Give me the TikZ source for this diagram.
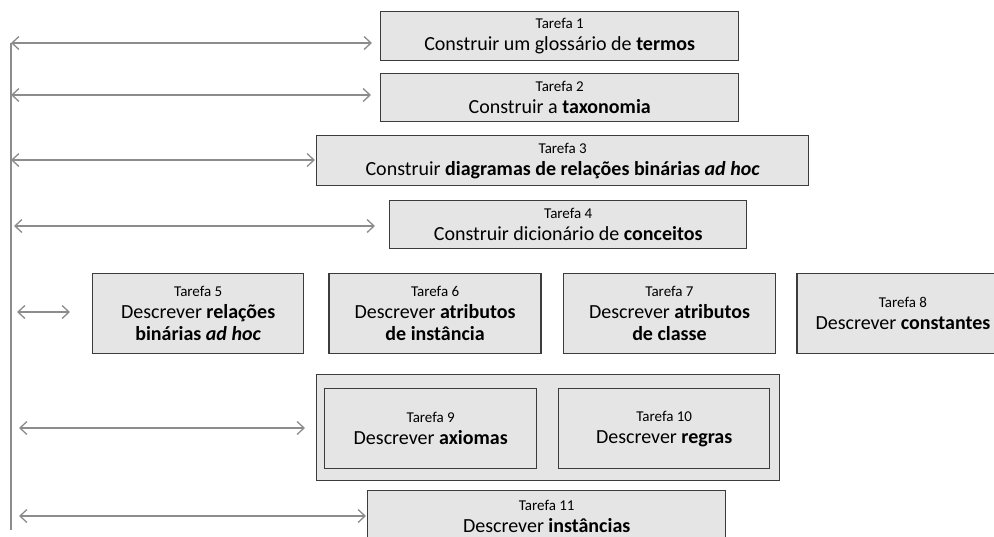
\documentclass[tikz,border=0pt]{standalone}
\usepackage{fontspec}
\setmainfont{Carlito}
\usetikzlibrary{arrows.meta,positioning}

\definecolor{boxfill}{RGB}{229,229,229}
\definecolor{boxline}{RGB}{60,60,60}
\definecolor{linkgray}{RGB}{140,140,140}

\tikzset{
  task/.style={draw=boxline,fill=boxfill,line width=1.4pt,rectangle,align=center,inner sep=0pt,
    font=\fontsize{20}{22}\selectfont},
  link/.style={draw=linkgray,line width=1.3pt,
    {Straight Barb[length=7pt,width=13pt]}-{Straight Barb[length=7pt,width=13pt]}},
}
\newcommand{\tarefa}[1]{{\fontsize{15}{16}\selectfont Tarefa #1}}

\begin{document}
\begin{tikzpicture}[x=1pt,y=-1pt]
\useasboundingbox (0,0) rectangle (994,536);

% spine on the left
\draw[draw=linkgray,line width=1.3pt] (11,43) -- (11,530);

\node[task,anchor=north west,minimum width=358pt,minimum height=49pt] (t1) at (380,11)
  {\tarefa{1}\\Construir um glossário de \textbf{termos}};

\node[task,anchor=north west,minimum width=358pt,minimum height=48pt] (t2) at (380,73)
  {\tarefa{2}\\Construir a \textbf{taxonomia}};

\node[task,anchor=north west,minimum width=492pt,minimum height=50pt] (t3) at (316,135)
  {\tarefa{3}\\Construir \textbf{diagramas de relações binárias \textit{ad hoc}}};

\node[task,anchor=north west,minimum width=357pt,minimum height=48pt] (t4) at (389,200)
  {\tarefa{4}\\Construir dicionário de \textbf{conceitos}};

% row of four
\node[task,anchor=north west,minimum width=211pt,minimum height=80pt] (t5) at (92,273)
  {\tarefa{5}\\Descrever \textbf{relações}\\\textbf{binárias \textit{ad hoc}}};
\node[task,right=24pt of t5,minimum width=212pt,minimum height=80pt] (t6)
  {\tarefa{6}\\Descrever \textbf{atributos}\\\textbf{de instância}};
\node[task,right=21pt of t6,minimum width=212pt,minimum height=80pt] (t7)
  {\tarefa{7}\\Descrever \textbf{atributos}\\\textbf{de classe}};
\node[task,right=20pt of t7,minimum width=212pt,minimum height=80pt] (t8)
  {\tarefa{8}\\Descrever \textbf{constantes}};

% group of tasks 9 and 10
\node[task,anchor=north west,minimum width=463pt,minimum height=106pt] (t9to10) at (316,374) {};
\node[task,anchor=north west,minimum width=212pt,minimum height=80pt] (t9) at (324,388)
  {\tarefa{9}\\Descrever \textbf{axiomas}};
\node[task,anchor=north west,minimum width=211pt,minimum height=80pt] (t10) at (558,388)
  {\tarefa{10}\\Descrever \textbf{regras}};

\node[task,anchor=north west,minimum width=358pt,minimum height=52pt] (t11) at (367,490)
  {\tarefa{11}\\Descrever \textbf{instâncias}};

% connectors
\coordinate (s1) at (11,43);
\coordinate (s2) at (11,95);
\coordinate (s3) at (11,160);
\coordinate (s4) at (14,226);
\coordinate (s5) at (17,312);
\coordinate (s6) at (19,428);
\coordinate (s7) at (19,516);

\draw[link,shorten >=8pt] (s1) -- (s1 -| t1.west);
\draw[link,shorten >=9pt] (s2) -- (s2 -| t2.west);
\draw[link,shorten >=1pt] (s3) -- (s3 -| t3.west);
\draw[link,shorten >=14pt] (s4) -- (s4 -| t4.west);
\draw[link,shorten >=22pt] (s5) -- (s5 -| t5.west);
\draw[link,shorten >=11pt] (s6) -- (s6 -| t9to10.west);
\draw[link,shorten >=1pt] (s7) -- (s7 -| t11.west);

\end{tikzpicture}
\end{document}
